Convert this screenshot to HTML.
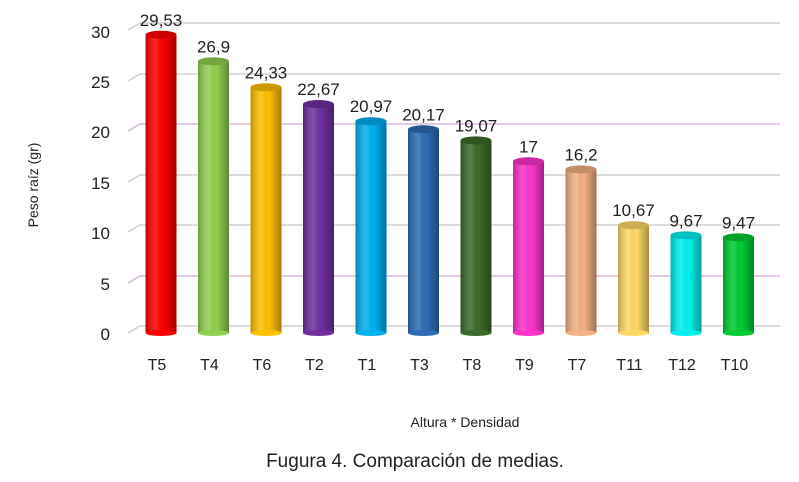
<!DOCTYPE html><html><head><style>body{margin:0;background:#fff}svg{display:block}text{font-family:"Liberation Sans",sans-serif;fill:#222}</style></head><body>
<svg width="799" height="482" viewBox="0 0 799 482">
<defs>
<linearGradient id="sh" x1="0" x2="1"><stop offset="0" stop-color="#000" stop-opacity="0.25"/><stop offset="0.35" stop-color="#fff" stop-opacity="0.15"/><stop offset="0.6" stop-color="#000" stop-opacity="0"/><stop offset="1" stop-color="#000" stop-opacity="0.35"/></linearGradient>
</defs>
<g stroke-width="1.5" fill="none" stroke="#d0d0d0">
<path d="M128 333 L140 326 H780"/><path d="M128 283 L140 276 H780" stroke="#d8b8d8"/>
<path d="M128 232 L140 225 H780"/><path d="M128 182 L140 175 H780"/>
<path d="M128 131 L140 124 H780" stroke="#d8b8d8"/><path d="M128 81 L140 74 H780"/>
<path d="M128 30 L140 23 H780"/>
</g>
<g font-size="17" text-anchor="end">
<text x="110" y="340">0</text><text x="110" y="290">5</text><text x="110" y="239">10</text><text x="110" y="189">15</text><text x="110" y="138">20</text><text x="110" y="88">25</text><text x="110" y="38">30</text>
</g>
<text transform="translate(38,185) rotate(-90)" font-size="14" text-anchor="middle">Peso raíz (gr)</text>

<g font-size="17" text-anchor="middle">
<g fill="#ff0000"><rect x="145.5" y="34.75" width="31" height="298.25"/><rect x="145.5" y="34.75" width="31" height="298.25" fill="url(#sh)"/><ellipse cx="161" cy="333" rx="15.5" ry="3"/><ellipse cx="161" cy="34.75" rx="15.5" ry="4"/><ellipse cx="161" cy="34.75" rx="15.5" ry="4" fill="#000" fill-opacity="0.2"/></g>
<text x="161" y="25.75">29,53</text>
<g fill="#92d050"><rect x="198" y="61.31" width="31" height="271.69"/><rect x="198" y="61.31" width="31" height="271.69" fill="url(#sh)"/><ellipse cx="213.5" cy="333" rx="15.5" ry="3"/><ellipse cx="213.5" cy="61.31" rx="15.5" ry="4"/><ellipse cx="213.5" cy="61.31" rx="15.5" ry="4" fill="#000" fill-opacity="0.2"/></g>
<text x="213.5" y="52.3">26,9</text>
<g fill="#ffc000"><rect x="250.5" y="87.27" width="31" height="245.73"/><rect x="250.5" y="87.27" width="31" height="245.73" fill="url(#sh)"/><ellipse cx="266" cy="333" rx="15.5" ry="3"/><ellipse cx="266" cy="87.27" rx="15.5" ry="4"/><ellipse cx="266" cy="87.27" rx="15.5" ry="4" fill="#000" fill-opacity="0.2"/></g>
<text x="266" y="78.3">24,33</text>
<g fill="#7030a0"><rect x="303" y="104.03" width="31" height="228.97"/><rect x="303" y="104.03" width="31" height="228.97" fill="url(#sh)"/><ellipse cx="318.5" cy="333" rx="15.5" ry="3"/><ellipse cx="318.5" cy="104.03" rx="15.5" ry="4"/><ellipse cx="318.5" cy="104.03" rx="15.5" ry="4" fill="#000" fill-opacity="0.2"/></g>
<text x="318.5" y="95">22,67</text>
<g fill="#00b0f0"><rect x="355.5" y="121.2" width="31" height="211.8"/><rect x="355.5" y="121.2" width="31" height="211.8" fill="url(#sh)"/><ellipse cx="371" cy="333" rx="15.5" ry="3"/><ellipse cx="371" cy="121.2" rx="15.5" ry="4"/><ellipse cx="371" cy="121.2" rx="15.5" ry="4" fill="#000" fill-opacity="0.2"/></g>
<text x="371" y="112.2">20,97</text>
<g fill="#2e6db4"><rect x="408" y="129.28" width="31" height="203.72"/><rect x="408" y="129.28" width="31" height="203.72" fill="url(#sh)"/><ellipse cx="423.5" cy="333" rx="15.5" ry="3"/><ellipse cx="423.5" cy="129.28" rx="15.5" ry="4"/><ellipse cx="423.5" cy="129.28" rx="15.5" ry="4" fill="#000" fill-opacity="0.2"/></g>
<text x="423.5" y="120.3">20,17</text>
<g fill="#3b6b2a"><rect x="460.5" y="140.39" width="31" height="192.61"/><rect x="460.5" y="140.39" width="31" height="192.61" fill="url(#sh)"/><ellipse cx="476" cy="333" rx="15.5" ry="3"/><ellipse cx="476" cy="140.39" rx="15.5" ry="4"/><ellipse cx="476" cy="140.39" rx="15.5" ry="4" fill="#000" fill-opacity="0.2"/></g>
<text x="476" y="131.4">19,07</text>
<g fill="#ff33cc"><rect x="513" y="161.3" width="31" height="171.7"/><rect x="513" y="161.3" width="31" height="171.7" fill="url(#sh)"/><ellipse cx="528.5" cy="333" rx="15.5" ry="3"/><ellipse cx="528.5" cy="161.3" rx="15.5" ry="4"/><ellipse cx="528.5" cy="161.3" rx="15.5" ry="4" fill="#000" fill-opacity="0.2"/></g>
<text x="528.5" y="152.3">17</text>
<g fill="#f4b183"><rect x="565.5" y="169.38" width="31" height="163.62"/><rect x="565.5" y="169.38" width="31" height="163.62" fill="url(#sh)"/><ellipse cx="581" cy="333" rx="15.5" ry="3"/><ellipse cx="581" cy="169.38" rx="15.5" ry="4"/><ellipse cx="581" cy="169.38" rx="15.5" ry="4" fill="#000" fill-opacity="0.2"/></g>
<text x="581" y="160.4">16,2</text>
<g fill="#ffd966"><rect x="618" y="225.23" width="31" height="107.77"/><rect x="618" y="225.23" width="31" height="107.77" fill="url(#sh)"/><ellipse cx="633.5" cy="333" rx="15.5" ry="3"/><ellipse cx="633.5" cy="225.23" rx="15.5" ry="4"/><ellipse cx="633.5" cy="225.23" rx="15.5" ry="4" fill="#000" fill-opacity="0.2"/></g>
<text x="633.5" y="216.2">10,67</text>
<g fill="#00f0f0"><rect x="670.5" y="235.33" width="31" height="97.67"/><rect x="670.5" y="235.33" width="31" height="97.67" fill="url(#sh)"/><ellipse cx="686" cy="333" rx="15.5" ry="3"/><ellipse cx="686" cy="235.33" rx="15.5" ry="4"/><ellipse cx="686" cy="235.33" rx="15.5" ry="4" fill="#000" fill-opacity="0.2"/></g>
<text x="686" y="226.3">9,67</text>
<g fill="#00cc33"><rect x="723" y="237.35" width="31" height="95.65"/><rect x="723" y="237.35" width="31" height="95.65" fill="url(#sh)"/><ellipse cx="738.5" cy="333" rx="15.5" ry="3"/><ellipse cx="738.5" cy="237.35" rx="15.5" ry="4"/><ellipse cx="738.5" cy="237.35" rx="15.5" ry="4" fill="#000" fill-opacity="0.2"/></g>
<text x="738.5" y="228.3">9,47</text>
</g>
<g font-size="16" text-anchor="middle">
<text x="157" y="370">T5</text><text x="209.5" y="370">T4</text><text x="262" y="370">T6</text><text x="314.5" y="370">T2</text><text x="367" y="370">T1</text><text x="419.5" y="370">T3</text><text x="472" y="370">T8</text><text x="524.5" y="370">T9</text><text x="577" y="370">T7</text><text x="629.5" y="370">T11</text><text x="682" y="370">T12</text><text x="734.5" y="370">T10</text>
</g>
<text x="465" y="427" font-size="14" text-anchor="middle">Altura * Densidad</text>
<text x="415" y="467" font-size="19" text-anchor="middle">Fugura 4. Comparación de medias.</text>
</svg></body></html>
